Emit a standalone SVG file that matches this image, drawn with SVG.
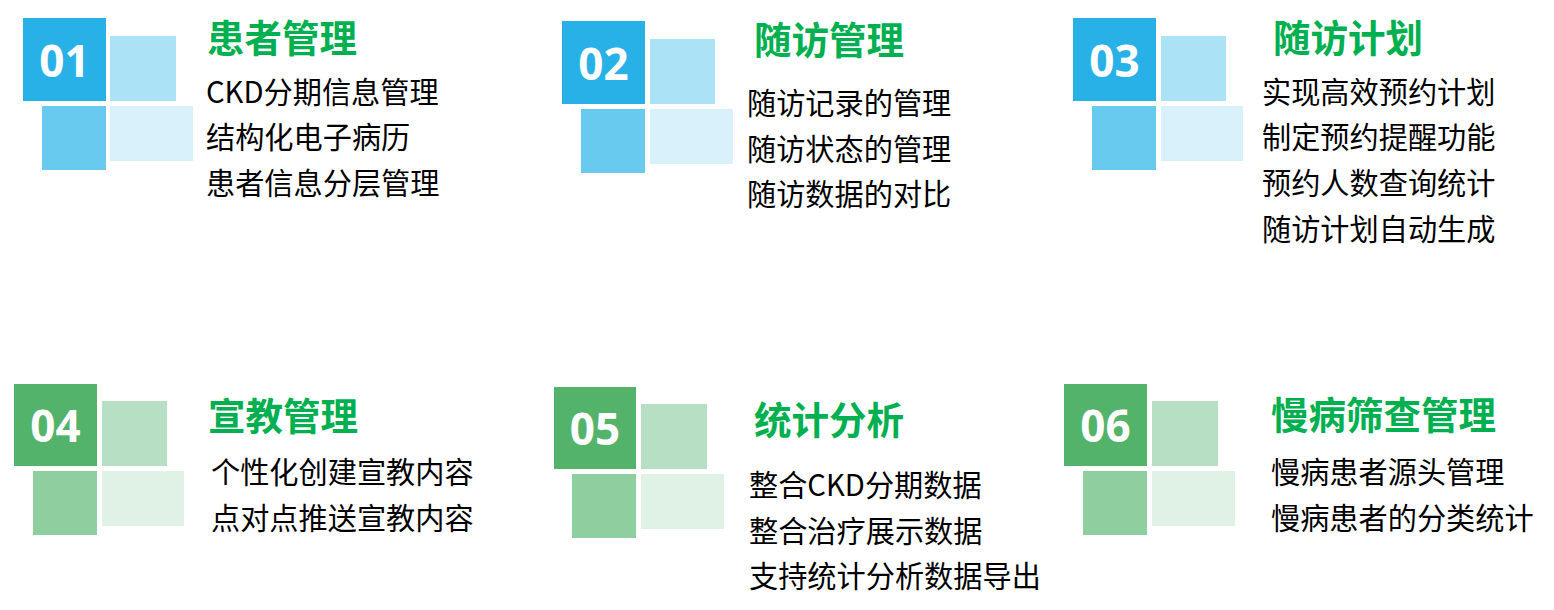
<svg xmlns="http://www.w3.org/2000/svg" width="1554" height="610" viewBox="0 0 1554 610">
<style>
.t{font-family:"Noto Sans CJK SC","Microsoft YaHei",sans-serif;font-weight:700;font-size:37.5px;fill:#00B050}
.b{font-family:"Noto Sans CJK SC","Microsoft YaHei",sans-serif;font-size:29.2px;fill:#000}
.n{font-family:"Open Sans","Liberation Sans",sans-serif;font-weight:700;font-size:44px;fill:#fff;text-anchor:middle}
.bd{fill:#27B1E7}.bl{fill:#ABE2F6}.bm{fill:#67CAEE}.bx{fill:#D9F1FA}
.gd{fill:#53B36B}.gl{fill:#B6DFC3}.gm{fill:#8ECE9F}.gx{fill:#E0F2E5}
</style>
<rect width="1554" height="610" fill="#fff"/>
<g id="node1">
<rect class="bd" x="23" y="18" width="83" height="83"/>
<rect class="bl" x="110" y="36" width="66" height="65"/>
<rect class="bm" x="42" y="106" width="64" height="64"/>
<rect class="bx" x="110" y="106" width="83" height="55"/>
<text class="n" x="64.5" y="77">01</text>
<text class="t" x="207" y="52">患者管理</text>
<text class="b" x="206" y="103">CKD分期信息管理</text>
<text class="b" x="206" y="148">结构化电子病历</text>
<text class="b" x="206" y="194">患者信息分层管理</text>
</g>
<g id="node2">
<rect class="bd" x="562" y="21" width="83" height="83"/>
<rect class="bl" x="650" y="39" width="65" height="65"/>
<rect class="bm" x="581" y="109" width="64" height="64"/>
<rect class="bx" x="650" y="109" width="83" height="55"/>
<text class="n" x="603.5" y="80">02</text>
<text class="t" x="754" y="54">随访管理</text>
<text class="b" x="747" y="114">随访记录的管理</text>
<text class="b" x="747" y="160">随访状态的管理</text>
<text class="b" x="747" y="205">随访数据的对比</text>
</g>
<g id="node3">
<rect class="bd" x="1073" y="18" width="83" height="83"/>
<rect class="bl" x="1161" y="36" width="65" height="65"/>
<rect class="bm" x="1092" y="106" width="64" height="64"/>
<rect class="bx" x="1161" y="106" width="82" height="55"/>
<text class="n" x="1114.5" y="77">03</text>
<text class="t" x="1273" y="52">随访计划</text>
<text class="b" x="1262" y="103">实现高效预约计划</text>
<text class="b" x="1262" y="148">制定预约提醒功能</text>
<text class="b" x="1262" y="194">预约人数查询统计</text>
<text class="b" x="1262" y="240">随访计划自动生成</text>
</g>
<g id="node4">
<rect class="gd" x="14" y="384" width="83" height="82"/>
<rect class="gl" x="102" y="401" width="65" height="65"/>
<rect class="gm" x="33" y="471" width="64" height="64"/>
<rect class="gx" x="102" y="471" width="82" height="55"/>
<text class="n" x="55.5" y="442">04</text>
<text class="t" x="208" y="430">宣教管理</text>
<text class="b" x="211" y="483">个性化创建宣教内容</text>
<text class="b" x="211" y="529">点对点推送宣教内容</text>
</g>
<g id="node5">
<rect class="gd" x="554" y="387" width="82" height="82"/>
<rect class="gl" x="641" y="404" width="66" height="65"/>
<rect class="gm" x="572" y="474" width="64" height="64"/>
<rect class="gx" x="641" y="474" width="83" height="55"/>
<text class="n" x="595" y="445">05</text>
<text class="t" x="754" y="434">统计分析</text>
<text class="b" x="749" y="496">整合CKD分期数据</text>
<text class="b" x="749" y="542">整合治疗展示数据</text>
<text class="b" x="749" y="587">支持统计分析数据导出</text>
</g>
<g id="node6">
<rect class="gd" x="1064" y="384" width="83" height="82"/>
<rect class="gl" x="1152" y="401" width="66" height="65"/>
<rect class="gm" x="1083" y="471" width="64" height="64"/>
<rect class="gx" x="1152" y="471" width="83" height="55"/>
<text class="n" x="1105.5" y="442">06</text>
<text class="t" x="1271" y="429">慢病筛查管理</text>
<text class="b" x="1271" y="483">慢病患者源头管理</text>
<text class="b" x="1271" y="529">慢病患者的分类统计</text>
</g>
<g id="connectors"/>
</svg>
